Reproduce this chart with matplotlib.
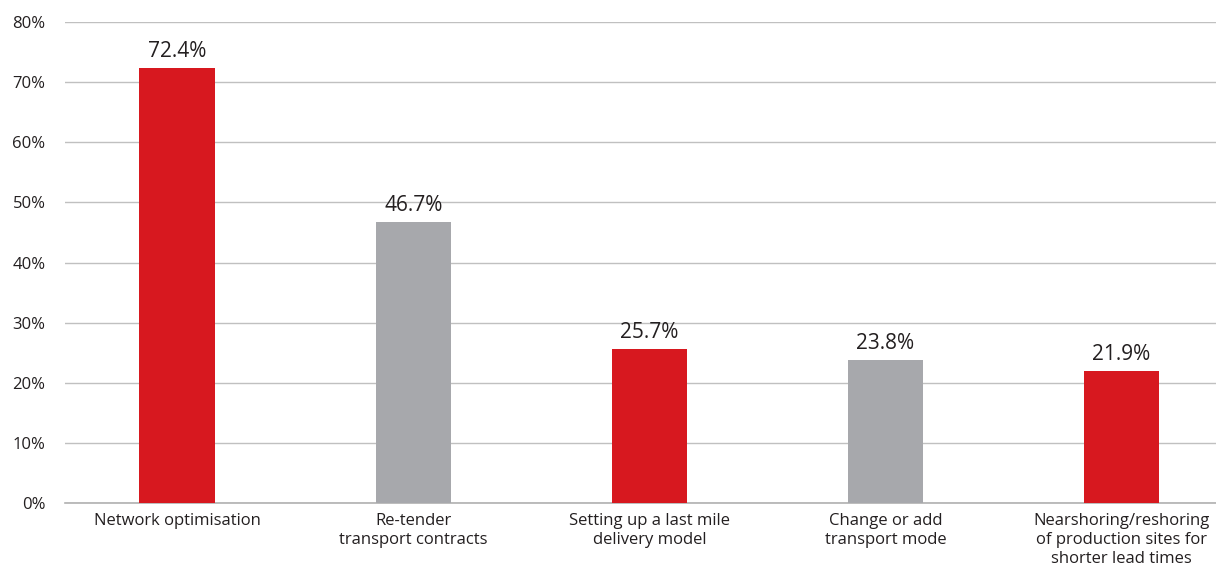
import matplotlib.pyplot as plt

# data
categories = [
    "Network optimisation",
    "Re-tender\ntransport contracts",
    "Setting up a last mile\ndelivery model",
    "Change or add\ntransport mode",
    "Nearshoring/reshoring\nof production sites for\nshorter lead times",
]
values = [72.4, 46.7, 25.7, 23.8, 21.9]
yticks = [0, 10, 20, 30, 40, 50, 60, 70, 80]

RED = "#d7181f"
GREY = "#a7a8ac"
bar_colors = [RED, GREY, RED, GREY, RED]

plt.rcParams["font.family"] = ["Open Sans", "DejaVu Sans"]

fig = plt.figure(figsize=(12.16, 5.69), dpi=100)
ax = fig.add_axes([0.0535, 0.116, 0.9465, 0.845])

x = list(range(len(values)))
bars = ax.bar(x, values, width=0.32, color=bar_colors, zorder=3)

for b, v in zip(bars, values):
    ax.text(b.get_x() + b.get_width() / 2, v + 1.0, f"{v:.1f}%",
            ha="center", va="bottom", fontsize=15, color="#231f20")

ax.set_ylim(0, 80)
ax.set_xlim(-0.475, 4.40)
ax.set_yticks(yticks)
ax.set_yticklabels([f"{t}%" for t in yticks], fontsize=12, color="#231f20")
ax.set_xticks(x)
ax.set_xticklabels(categories, fontsize=12, color="#231f20", linespacing=1.25)
ax.tick_params(axis="both", length=0)
ax.tick_params(axis="y", pad=14)
ax.tick_params(axis="x", pad=7)

ax.grid(axis="y", color="#c0c0c0", linewidth=1, zorder=0)
for s in ["top", "right", "left"]:
    ax.spines[s].set_visible(False)
ax.spines["bottom"].set_color("#b0b0b0")
ax.spines["bottom"].set_linewidth(1.2)

fig.savefig("out.png", dpi=100)
